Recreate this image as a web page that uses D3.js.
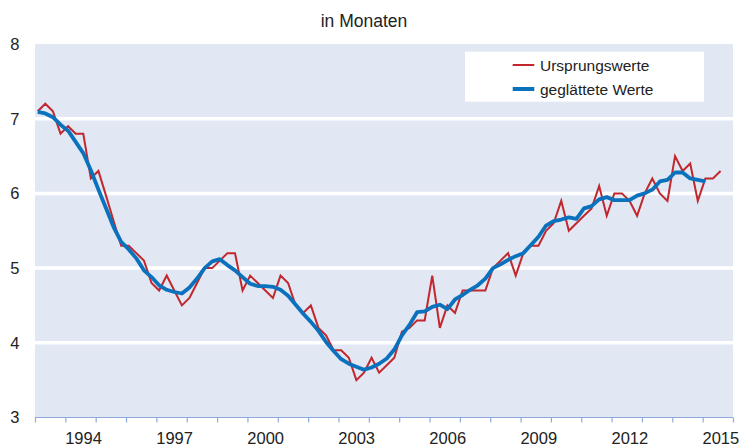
<!DOCTYPE html>
<html><head><meta charset="utf-8">
<script src="https://cdn.jsdelivr.net/npm/d3@7"></script>
<style>
html,body{margin:0;padding:0;background:#fff;}
svg{display:block;font-family:"Liberation Sans",Arial,sans-serif;}
</style></head>
<body><svg id="c" width="741" height="447"></svg>
<script>
const title = "in Monaten";
const seriesNames = ["Ursprungswerte", "geglättete Werte"];
const firstQuarterYear = 1993; // quarterly data from 1993 Q1
const original = [7.1,7.2,7.1,6.8,6.9,6.8,6.8,6.2,6.3,5.97,5.63,5.3,5.3,5.2,5.1,4.8,4.7,4.9,4.7,4.5,
  4.6,4.8,5.0,5.0,5.1,5.2,5.2,4.7,4.9,4.8,4.7,4.6,4.9,4.8,4.5,4.4,4.5,4.2,4.1,3.9,
  3.9,3.8,3.5,3.6,3.8,3.6,3.7,3.8,4.15,4.2,4.3,4.3,4.9,4.2,4.5,4.4,4.7,4.7,4.7,4.7,
  5.0,5.1,5.2,4.9,5.2,5.3,5.3,5.5,5.6,5.9,5.5,5.6,5.7,5.8,6.1,5.7,6.0,6.0,5.9,5.7,
  6.0,6.2,6.0,5.9,6.5,6.3,6.4,5.9,6.2,6.2,6.3];
const smoothed = [7.09,7.07,7.02,6.92,6.84,6.69,6.54,6.31,6.05,5.8,5.55,5.35,5.25,5.13,4.97,4.88,4.77,4.71,4.68,4.66,
  4.74,4.86,5.0,5.09,5.12,5.04,4.97,4.88,4.79,4.76,4.76,4.75,4.71,4.63,4.51,4.39,4.28,4.16,4.01,3.89,
  3.78,3.72,3.68,3.64,3.67,3.72,3.79,3.91,4.1,4.24,4.41,4.42,4.48,4.51,4.45,4.58,4.64,4.71,4.77,4.86,
  5.0,5.05,5.11,5.16,5.2,5.31,5.42,5.57,5.63,5.65,5.68,5.66,5.8,5.83,5.92,5.95,5.91,5.91,5.91,5.97,
  6.0,6.05,6.16,6.18,6.28,6.28,6.2,6.18,6.16];
const yTicks = [3,4,5,6,7,8];
const xTickYears = d3.range(1993, 2017);
const xLabelYears = [1994,1997,2000,2003,2006,2009,2012,2015];

const svg = d3.select("#c");
const L = 35, R = 733, T = 44, B = 417.5;
const x = d3.scaleLinear().domain([1993, 2016]).range([L, R]);
const y = d3.scaleLinear().domain([3, 8]).range([B, T]);
const tOf = i => firstQuarterYear + i * 0.25 + 0.09;

svg.append("rect").attr("x", L).attr("y", T).attr("width", R - L).attr("height", B - T).attr("fill", "#e1e7f3");

// gridlines
svg.append("g").selectAll("line").data(yTicks.filter(v => v > 3 && v < 8)).join("line")
  .attr("x1", L).attr("x2", R).attr("y1", d => y(d)).attr("y2", d => y(d))
  .attr("stroke", "#fff").attr("stroke-width", 3.5);

// y labels
svg.append("g").selectAll("text").data(yTicks).join("text")
  .attr("x", 19.5).attr("y", d => y(d)).attr("dy", "0.36em").attr("text-anchor", "end")
  .attr("font-size", 16.5).attr("fill", "#222").text(d => d);

// x axis
const xAxis = d3.axisBottom(x).tickValues(xTickYears).tickSize(5).tickFormat("");
const ga = svg.append("g").attr("transform", `translate(0,${B})`).call(xAxis);
ga.selectAll("path,line").attr("stroke", "#8eaadb").attr("stroke-width", 1.2);
ga.select("path").attr("d", `M${L},0H${R}`);

svg.append("g").selectAll("text").data(xLabelYears).join("text")
  .attr("x", d => x(d + 0.6)).attr("y", 443.5).attr("text-anchor", "middle")
  .attr("font-size", 16.5).attr("fill", "#222").text(d => d);

// title
svg.append("text").attr("x", 364).attr("y", 26.5).attr("text-anchor", "middle")
  .attr("font-size", 17.5).attr("fill", "#222").text(title);

// lines
const line = d3.line().x((d, i) => x(tOf(i))).y(d => y(d));
svg.append("path").datum(original).attr("d", line).attr("fill", "none")
  .attr("stroke", "#c1272d").attr("stroke-width", 2).attr("stroke-linejoin", "miter");
svg.append("path").datum(smoothed).attr("d", line).attr("fill", "none")
  .attr("stroke", "#0a72bd").attr("stroke-width", 3.8).attr("stroke-linejoin", "round");

// legend
const lg = svg.append("g");
lg.append("rect").attr("x", 465).attr("y", 51.7).attr("width", 239).attr("height", 50).attr("fill", "#fff");
const legendItems = [{name: seriesNames[0], color: "#c1272d", w: 2, yy: 65},
                     {name: seriesNames[1], color: "#0a72bd", w: 4, yy: 89}];
legendItems.forEach(it => {
  lg.append("line").attr("x1", 512.7).attr("x2", 534.3).attr("y1", it.yy).attr("y2", it.yy)
    .attr("stroke", it.color).attr("stroke-width", it.w);
  lg.append("text").attr("x", 540).attr("y", it.yy).attr("dy", "0.36em")
    .attr("font-size", 15.5).attr("fill", "#222").text(it.name);
});
</script></body></html>
